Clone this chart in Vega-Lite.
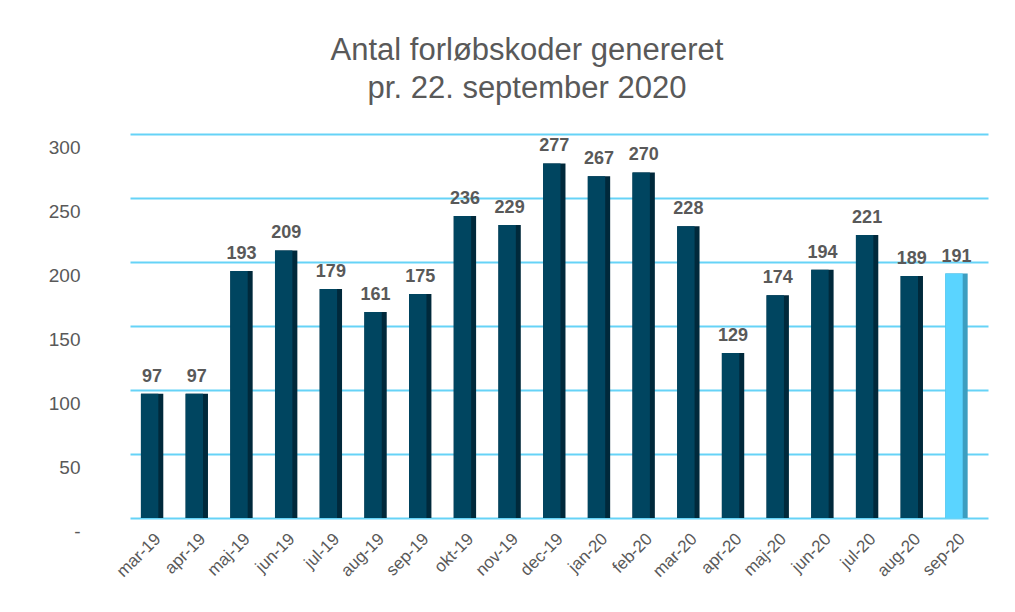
{
  "$schema": "https://vega.github.io/schema/vega-lite/v6.json",
  "width": 858,
  "height": 384,
  "padding": {"left": 48, "top": 35, "right": 25, "bottom": 5},
  "background": "white",
  "title": {
    "text": ["Antal forløbskoder genereret", "pr. 22. september 2020"],
    "fontSize": 31,
    "font": "Liberation Sans",
    "fontWeight": "normal",
    "color": "#595959",
    "lineHeight": 38,
    "offset": 29,
    "dx": -32,
    "anchor": "middle"
  },
  "config": {
    "view": {"stroke": null},
    "font": "Liberation Sans"
  },
  "data": {
    "values": [
      {"month": "mar-19", "value": 97},
      {"month": "apr-19", "value": 97},
      {"month": "maj-19", "value": 193},
      {"month": "jun-19", "value": 209},
      {"month": "jul-19", "value": 179},
      {"month": "aug-19", "value": 161},
      {"month": "sep-19", "value": 175},
      {"month": "okt-19", "value": 236},
      {"month": "nov-19", "value": 229},
      {"month": "dec-19", "value": 277},
      {"month": "jan-20", "value": 267},
      {"month": "feb-20", "value": 270},
      {"month": "mar-20", "value": 228},
      {"month": "apr-20", "value": 129},
      {"month": "maj-20", "value": 174},
      {"month": "jun-20", "value": 194},
      {"month": "jul-20", "value": 221},
      {"month": "aug-20", "value": 189},
      {"month": "sep-20", "value": 191}
    ]
  },
  "encoding": {
    "x": {
      "field": "month",
      "type": "nominal",
      "sort": null,
      "scale": {"paddingInner": 0.5, "paddingOuter": 0.35, "align": 0.35},
      "axis": {
        "title": null,
        "labelAngle": -45,
        "labelAlign": "right",
        "labelBaseline": "middle",
        "labelFontSize": 17,
        "labelColor": "#595959",
        "labelPadding": 18,
        "labelOffset": 6,
        "ticks": false,
        "domain": false,
        "grid": false
      }
    },
    "y": {
      "field": "value",
      "type": "quantitative",
      "scale": {"domain": [0, 300], "nice": false},
      "axis": {
        "title": null,
        "values": [0, 50, 100, 150, 200, 250, 300],
        "labelExpr": "datum.value == 0 ? '-' : datum.label",
        "labelFontSize": 19,
        "labelColor": "#595959",
        "labelPadding": 50,
        "labelOffset": 13,
        "ticks": false,
        "domain": false,
        "grid": true,
        "gridColor": "#66D3F7",
        "gridWidth": 2
      }
    }
  },
  "layer": [
    {
      "mark": {"type": "bar", "width": {"band": 1}},
      "encoding": {
        "color": {
          "condition": {"test": "datum.month == 'sep-20'", "value": "#3C9EC0"},
          "value": "#00293B"
        }
      }
    },
    {
      "mark": {"type": "bar", "width": {"band": 0.78}, "xOffset": -2.5},
      "encoding": {
        "color": {
          "condition": {"test": "datum.month == 'sep-20'", "value": "#5AD4FF"},
          "value": "#004560"
        }
      }
    },
    {
      "mark": {"type": "text", "dy": -17, "fontSize": 18, "fontWeight": "bold", "color": "#595959"},
      "encoding": {"text": {"field": "value", "type": "quantitative"}}
    }
  ]
}
